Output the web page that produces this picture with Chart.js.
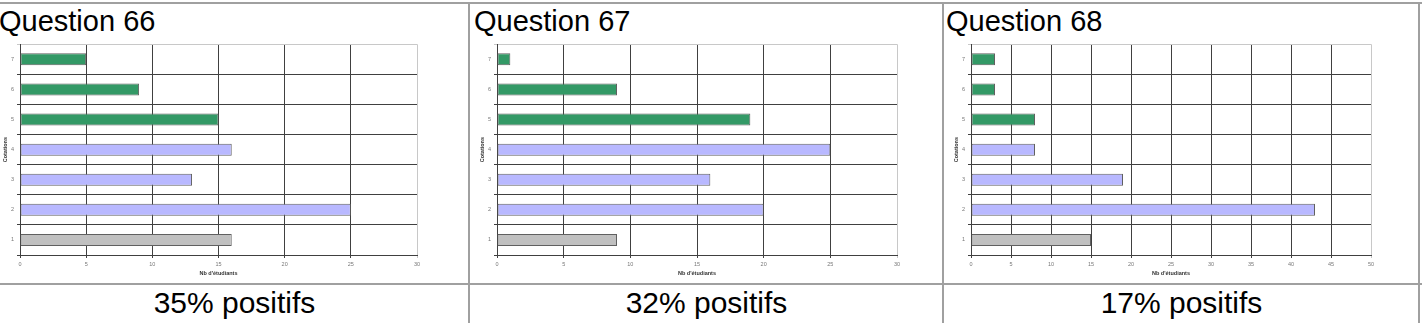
<!DOCTYPE html>
<html>
<head>
<meta charset="utf-8">
<script src="https://cdn.jsdelivr.net/npm/chart.js"></script>
<style>
  html, body { margin: 0; padding: 0; background: #fff; }
  body { width: 1422px; height: 323px; position: relative; overflow: hidden; font-family: "Liberation Sans", Arial, sans-serif; }
  .line { position: absolute; background: #a0a0a0; }
  .title { position: absolute; font-size: 29px; line-height: 29px; color: #000; white-space: nowrap; }
  .footer { position: absolute; font-size: 30px; line-height: 30px; color: #000; white-space: nowrap; text-align: center; }
  canvas { position: absolute; }
</style>
</head>
<body>
<div class="line" style="left:0;top:2px;width:1422px;height:2px;"></div>
<div class="line" style="left:0;top:283px;width:1422px;height:2px;"></div>
<div class="line" style="left:468px;top:2px;width:2px;height:321px;"></div>
<div class="line" style="left:942px;top:2px;width:2px;height:321px;"></div>
<div class="line" style="left:1418px;top:2px;width:2px;height:321px;"></div>

<div id="t0" class="title" style="left:-1px;top:7px;"></div>
<div id="t1" class="title" style="left:474px;top:7px;"></div>
<div id="t2" class="title" style="left:946px;top:7px;"></div>

<div id="f0" class="footer" style="left:0;width:469px;top:288px;"></div>
<div id="f1" class="footer" style="left:470px;width:473px;top:288px;"></div>
<div id="f2" class="footer" style="left:944px;width:475px;top:288px;"></div>

<canvas id="c0" width="430" height="245" style="left:0;top:38px;"></canvas>
<canvas id="c1" width="433" height="245" style="left:477px;top:38px;"></canvas>
<canvas id="c2" width="433" height="245" style="left:951px;top:38px;"></canvas>

<script>
const categories = ['1', '2', '3', '4', '5', '6', '7'];
const q66 = [16, 25, 13, 16, 15, 9, 5];
const q67 = [9, 20, 16, 25, 19, 9, 1];
const q68 = [15, 43, 19, 8, 8, 3, 3];
const titles = ['Question 66', 'Question 67', 'Question 68'];
const footers = ['35% positifs', '32% positifs', '17% positifs'];
const xMax = [30, 30, 50];
const xTitle = "Nb d'étudiants";
const yTitle = 'Cotations';
const barColors = ['#c0c0c0', '#b8b8ff', '#b8b8ff', '#b8b8ff', '#339966', '#339966', '#339966'];

const series = [q66, q67, q68];

titles.forEach((t, i) => { document.getElementById('t' + i).textContent = t; });
footers.forEach((t, i) => { document.getElementById('f' + i).textContent = t; });

const tickFont = { family: '"Liberation Sans", Arial, sans-serif', size: 5.5 };
const titleFont = { family: '"Liberation Sans", Arial, sans-serif', size: 5.5, weight: 'bold' };

series.forEach((vals, i) => {
  const max = xMax[i];
  new Chart(document.getElementById('c' + i), {
    type: 'bar',
    data: {
      labels: categories,
      datasets: [{
        data: vals,
        backgroundColor: barColors,
        borderColor: '#606060',
        borderWidth: 1,
        borderSkipped: false,
        barPercentage: 0.4,
        categoryPercentage: 1
      }]
    },
    options: {
      indexAxis: 'y',
      responsive: false,
      animation: false,
      devicePixelRatio: 1,
      layout: { padding: { top: 5, right: 13, left: 0, bottom: 0 } },
      plugins: { legend: { display: false }, tooltip: { enabled: false } },
      scales: {
        x: {
          type: 'linear',
          min: 0,
          max: max,
          ticks: { stepSize: 5, font: tickFont, color: '#777', padding: 3, maxRotation: 0 },
          grid: {
            color: ctx => (ctx.tick && ctx.tick.value === max) ? '#c8c8c8' : '#404040',
            lineWidth: 1,
            tickLength: 3
          },
          border: { color: '#404040', width: 1 },
          title: { display: true, text: xTitle, font: titleFont, color: '#333', padding: { top: 0, bottom: 6 } },
          afterFit: s => { s.height = 28; }
        },
        y: {
          reverse: true,
          ticks: { font: tickFont, color: '#777', padding: 3 },
          grid: {
            offset: true,
            color: ctx => ctx.type === 'tick' ? '#404040' : '#c8c8c8',
            lineWidth: 1,
            tickLength: 3
          },
          border: { color: '#404040', width: 1 },
          title: { display: true, text: yTitle, font: titleFont, color: '#333', padding: { top: 2, bottom: 0 } },
          afterFit: s => { s.width = 20; }
        }
      }
    }
  });
});
</script>
</body>
</html>
